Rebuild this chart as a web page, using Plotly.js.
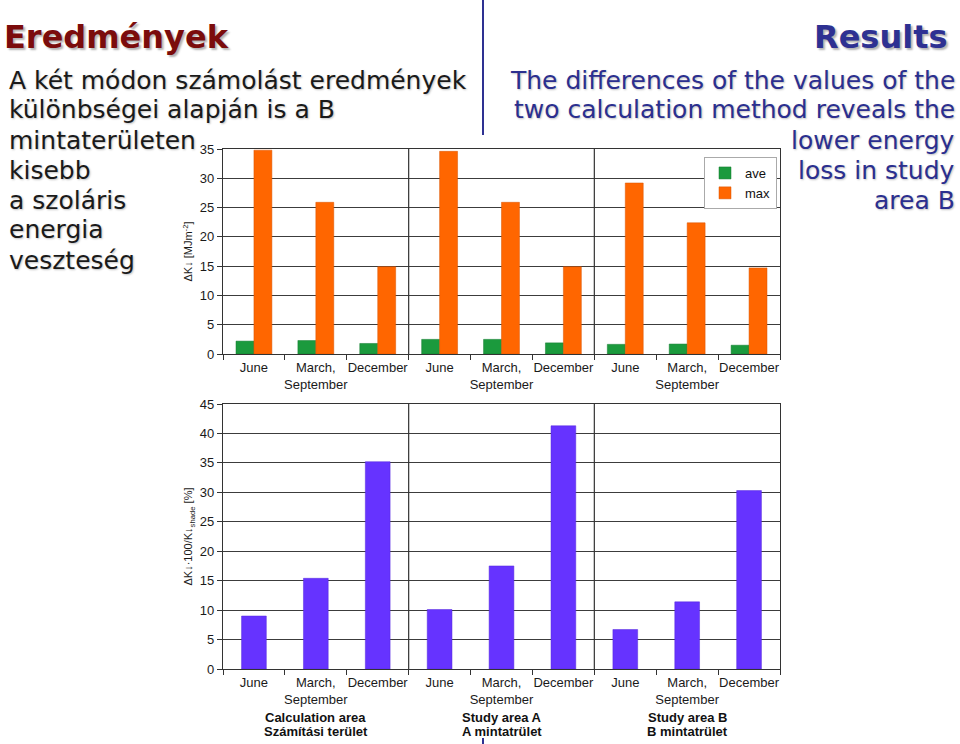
<!DOCTYPE html>
<html>
<head>
<meta charset="utf-8">
<script src="https://cdn.plot.ly/plotly-3.0.1.min.js"></script>
<style>html,body{margin:0;padding:0;background:#fff;}#chart{width:960px;height:744px;}</style>
</head>
<body>
<div id="chart"></div>
<script>
// ---- data ----
const months = ["June", "March,<br>September", "December"];
const groups = ["Calculation area<br>Számítási terület", "Study area A<br>A mintatrület", "Study area B<br>B mintatrület"];
const aveVals = [2.2, 2.3, 1.8, 2.5, 2.5, 1.9, 1.65, 1.7, 1.5];
const maxVals = [34.8, 25.9, 14.9, 34.6, 25.9, 14.9, 29.2, 22.4, 14.7];
const pctVals = [9.0, 15.4, 35.2, 10.1, 17.5, 41.3, 6.7, 11.4, 30.3];
const seriesNames = ["ave", "max"];
const topTitle = "ΔK↓ [MJm<sup>-2</sup>]";
const bottomTitle = "ΔK↓·100/K↓<sub>shade</sub> [%]";
const leftHeading = "Eredmények";
const leftLines = ["A két módon számolást eredmények", "különbségei alapján is a B", "mintaterületen", "kisebb", "a szoláris", "energia", "veszteség"];
const rightHeading = "Results";
const rightLines = ["The differences of the values of the", "two calculation method reveals the", "lower energy", "loss in study", "area B"];

// ---- derived ----
const labels = [];
groups.forEach(() => months.forEach(m => labels.push(m)));
const xs = labels.map((_, i) => i);
const boundaries = [];
for (let i = 0; i <= labels.length; i++) boundaries.push(i - 0.5);
const dividers = groups.slice(1).map((_, g) => (g + 1) * months.length - 0.5);

const W = 960, H = 744;
const px = v => v / W, py = v => 1 - v / H;

const gridC = '#3c3c3c';
const tickFont = {family: 'Liberation Sans, Arial, sans-serif', size: 13, color: '#1a1a1a'};

function xAxis(anchor) {
  return {
    domain: [px(223), px(780)], anchor: anchor, range: [-0.5, labels.length - 0.5],
    tickmode: 'array', tickvals: xs, ticktext: labels, tickangle: 0,
    ticks: 'outside', ticklen: 1, tickcolor: 'rgba(0,0,0,0)',
    minor: {tickmode: 'array', tickvals: boundaries, ticks: 'outside', ticklen: 5, tickcolor: '#333', tickwidth: 1, showgrid: false},
    showline: true, mirror: true, linecolor: '#333', linewidth: 1.2,
    showgrid: false, zeroline: false, tickfont: tickFont, fixedrange: true
  };
}
function yAxis(anchor, dom, max, title) {
  return {
    domain: dom, anchor: anchor, range: [0, max], dtick: 5, tick0: 0,
    ticks: 'outside', ticklen: 5, tickcolor: '#333',
    showline: true, mirror: true, linecolor: '#333', linewidth: 1.2,
    showgrid: true, gridcolor: gridC, gridwidth: 1.2, zeroline: false,
    tickfont: tickFont, fixedrange: true,
    title: {text: title, font: {family: 'Liberation Sans, Arial, sans-serif', size: 11, color: '#1a1a1a'}, standoff: 4}
  };
}

const traces = [
  {type: 'bar', x: xs, y: aveVals, name: seriesNames[0], xaxis: 'x', yaxis: 'y',
   marker: {color: '#1b9a3d', line: {color: '#137a2e', width: 0.5}}},
  {type: 'bar', x: xs, y: maxVals, name: seriesNames[1], xaxis: 'x', yaxis: 'y',
   marker: {color: '#ff6600', line: {color: '#d95400', width: 0.5}}},
  {type: 'bar', x: xs, y: pctVals, name: 'pct', xaxis: 'x2', yaxis: 'y2', width: 0.4, showlegend: false,
   marker: {color: '#6633ff', line: {color: '#5528dd', width: 0.5}}}
];

const shapes = [];
dividers.forEach(d => {
  ['x', 'x2'].forEach((xr, k) => {
    shapes.push({type: 'line', xref: xr, yref: (k === 0 ? 'y' : 'y2') + ' domain', x0: d, x1: d, y0: 0, y1: 1,
      line: {color: '#333', width: 1.2}});
  });
});
shapes.push({type: 'line', xref: 'paper', yref: 'paper', x0: px(483), x1: px(483), y0: py(0), y1: py(135), line: {color: '#2e3192', width: 2}});
shapes.push({type: 'line', xref: 'paper', yref: 'paper', x0: px(483), x1: px(483), y0: py(738), y1: py(744), line: {color: '#2e3192', width: 2}});

const annotations = [];
const verd = 'DejaVu Sans, Verdana, sans-serif';
annotations.push({xref: 'paper', yref: 'paper', x: px(2), y: py(37), xanchor: 'left', yanchor: 'middle', showarrow: false,
  text: '<b>' + leftHeading + '</b>', font: {family: verd, size: 32, color: '#7b0c0c', shadow: '2px 2px 2px rgba(0,0,0,0.3)'}});
annotations.push({xref: 'paper', yref: 'paper', x: px(949), y: py(37), xanchor: 'right', yanchor: 'middle', showarrow: false,
  text: '<b>' + rightHeading + '</b>', font: {family: verd, size: 32, color: '#2e3192', shadow: '2px 2px 2px rgba(0,0,0,0.3)'}});
leftLines.forEach((t, i) => annotations.push({xref: 'paper', yref: 'paper', x: px(7), y: py(80 + 30 * i), xanchor: 'left', yanchor: 'middle',
  showarrow: false, text: t, font: {family: verd, size: 25, color: '#1a1a1a', shadow: '1px 1px 2px rgba(0,0,0,0.25)'}}));
rightLines.forEach((t, i) => annotations.push({xref: 'paper', yref: 'paper', x: px(957), y: py(80 + 30 * i), xanchor: 'right', yanchor: 'middle',
  showarrow: false, text: t, font: {family: verd, size: 25, color: '#2b2f8f', shadow: '1px 1px 2px rgba(0,0,0,0.25)'}}));
groups.forEach((g, i) => g.split('<br>').forEach((line, j) => annotations.push({xref: 'x2', yref: 'paper',
  x: i * months.length + (months.length - 1) / 2, y: py(717 + 14 * j),
  xanchor: 'center', yanchor: 'middle', showarrow: false, text: '<b>' + line + '</b>',
  font: {family: 'Liberation Sans, Arial, sans-serif', size: 13, color: '#111'}})));

const layout = {
  width: W, height: H, margin: {l: 0, r: 0, t: 0, b: 0},
  paper_bgcolor: '#fff', plot_bgcolor: '#fff',
  barmode: 'group', bargap: 0.42, bargroupgap: 0,
  xaxis: xAxis('y'), yaxis: yAxis('x', [py(354), py(149)], 35, topTitle),
  xaxis2: xAxis('y2'), yaxis2: yAxis('x2', [py(669), py(404)], 45, bottomTitle),
  showlegend: true,
  legend: {x: px(777), y: py(157), xanchor: 'right', yanchor: 'top', bgcolor: '#fff', bordercolor: '#aaa', borderwidth: 1,
    font: {family: 'Liberation Sans, Arial, sans-serif', size: 13, color: '#111'}, tracegroupgap: 0, itemwidth: 30},
  shapes: shapes, annotations: annotations
};

Plotly.newPlot('chart', traces, layout, {displayModeBar: false, staticPlot: true});
</script>
</body>
</html>
